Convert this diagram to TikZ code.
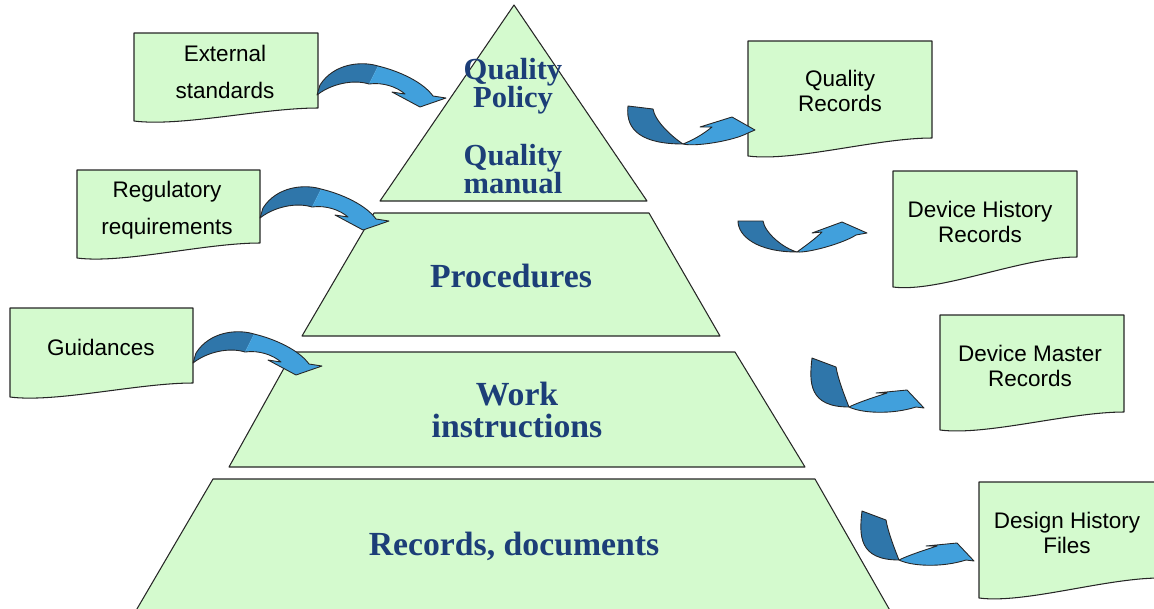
\documentclass[tikz,border=0pt]{standalone}
\usepackage{fontspec}
\setmainfont{Liberation Serif}
\setsansfont{Liberation Sans}
\definecolor{pgreen}{RGB}{212,250,206}
\definecolor{tblue}{RGB}{28,62,120}
\definecolor{adark}{RGB}{47,118,170}
\definecolor{alight}{RGB}{65,160,220}
\begin{document}
\begin{tikzpicture}[x=0.02cm,y=-0.02cm,
  layer/.style={fill=pgreen, draw=black!85, line width=0.6pt, line join=round},
  docbox/.style={fill=pgreen, draw=black!85, line width=0.6pt, line join=round},
  lvl/.style={font=\bfseries\fontsize{19.2}{18}\selectfont, text=tblue, align=center, inner sep=0pt},
  ltxt/.style={font=\sffamily\fontsize{12.8}{21}\selectfont, align=center, inner sep=0pt},
  rtxt/.style={font=\sffamily\fontsize{12.8}{14.2}\selectfont, align=center, inner sep=0pt},
  dkfill/.style={fill=adark},
  ltfill/.style={fill=alight},
  aline/.style={draw=black!85, line width=0.5pt, line join=round}
]
\useasboundingbox (0,0) rectangle (1154,609);

% ---------- pyramid ----------
\draw[layer] (514,5) -- (647,201) -- (380,201) -- cycle;
\draw[layer] (374,213) -- (649,213) -- (720,336) -- (302,336) -- cycle;
\draw[layer] (293,352) -- (735,352) -- (805,467) -- (229,467) -- cycle;
\draw[layer] (213,479) -- (815,479) -- (892,614) -- (134,614) -- cycle;

\node[lvl, font=\bfseries\fontsize{17.4}{16.2}\selectfont] (qp) at (513,86) {Quality\\Policy};
\node[lvl, font=\bfseries\fontsize{17.4}{16.2}\selectfont] (qm) at (513,169) {Quality\\manual};
\node[lvl] (proc) at (511,276) {Procedures};
\node[lvl] (work) at (517,410) {Work\\instructions};
\node[lvl] (recd) at (514,546) {Records, documents};

% ---------- documents ----------
\newcommand{\docpath}[5]{% x1, x2, ytop, yRight, yLeft
  \draw[docbox] (#1,#3) -- (#2,#3) -- (#2,#4)
    .. controls ({#2-0.3*(#2-#1)},#4) and ({#1+0.25*(#2-#1)},{#5+6}) .. (#1,#5) -- cycle;}
\docpath{134}{318}{33}{108}{121}
\docpath{77}{260}{170}{243}{258}
\docpath{10}{193}{308}{383}{397}
\docpath{748}{932}{41}{138}{156}
\docpath{893}{1077}{171}{257}{287}
\docpath{940}{1124}{315}{412}{430}
\docpath{979}{1160}{482}{578}{598}

\node[ltxt] (ext) at (225,72) {External\\standards};
\node[ltxt] (reg) at (167,210) {Regulatory\\requirements};
\node[ltxt] (gui) at (101,347) {Guidances};
\node[rtxt] (qr) at (840,91) {Quality\\Records};
\node[rtxt] (dhr) at (980,222) {Device History\\Records};
\node[rtxt] (dmr) at (1030,366) {Device Master\\Records};
\node[rtxt] (dhf) at (1067,533) {Design History\\Files};

% ---------- left curved arrows ----------
\newcommand{\leftarr}[1]{%
\begin{scope}[shift={#1}]
  \fill[dkfill] (0,3) -- (3,-7) .. controls (17,-29) and (45,-31) .. (61,-26)
     -- (52,-8) .. controls (36,-13) and (14,-8) .. (0,3) -- cycle;
  \fill[ltfill] (61,-26) .. controls (82,-21) and (106,-10) .. (116,4)
     -- (129,6) -- (103,15) -- (75,0) -- (88,2)
     .. controls (80,-5) and (66,-10) .. (52,-8) -- cycle;
  \draw[aline] (0,3) -- (3,-7) .. controls (17,-29) and (45,-31) .. (61,-26)
     .. controls (82,-21) and (106,-10) .. (116,4)
     -- (129,6) -- (103,15) -- (75,0) -- (88,2)
     .. controls (80,-5) and (66,-10) .. (52,-8)
     .. controls (36,-13) and (14,-8) .. (0,3) -- cycle;
\end{scope}}
\leftarr{(317,92)}
\leftarr{(260,215)}
\leftarr{(193,360)}

% ---------- right curved arrows ----------
\begin{scope}[shift={(628,106)}]
  \filldraw[dkfill, aline] (0,0) -- (25,3) .. controls +(2,12) and +(-12,-8) .. (55,38)
     .. controls +(-40,0) and +(-3,25) .. (0,0) -- cycle;
  \filldraw[ltfill, aline] (55,38) .. controls +(12,3) and +(-15,8) .. (120,27)
     -- (127,24) -- (104,11) -- (72,21) -- (84,21)
     .. controls +(-10,8) and +(10,-4) .. (55,38) -- cycle;
\end{scope}
\begin{scope}[shift={(738,221)}]
  \filldraw[dkfill, aline] (0,0) -- (25,0) .. controls +(2,12) and +(-14,-4) .. (59,31)
     .. controls +(-40,0) and +(0,15) .. (0,0) -- cycle;
  \filldraw[ltfill, aline] (59,31) .. controls +(12,1) and +(-12,8) .. (118,14)
     -- (129,12) -- (104,1) -- (74,12) -- (84,11)
     .. controls +(-8,8) and +(8,-6) .. (59,31) -- cycle;
\end{scope}
\newcommand{\rightarrlow}[1]{%
\begin{scope}[shift={#1}]
  \filldraw[dkfill, aline] (0,0) -- (24,9) .. controls +(2,12) and +(-4,-10) .. (37,49)
     .. controls +(-40,0) and +(-3,25) .. (0,0) -- cycle;
  \filldraw[ltfill, aline] (37,49) .. controls +(12,6) and +(-25,8) .. (104,49)
     -- (112,50) -- (95,32) -- (64,35) -- (75,35)
     .. controls +(-12,4) and +(10,-5) .. (37,49) -- cycle;
\end{scope}}
\rightarrlow{(812,358)}
\rightarrlow{(862,511)}
\end{tikzpicture}
\end{document}
